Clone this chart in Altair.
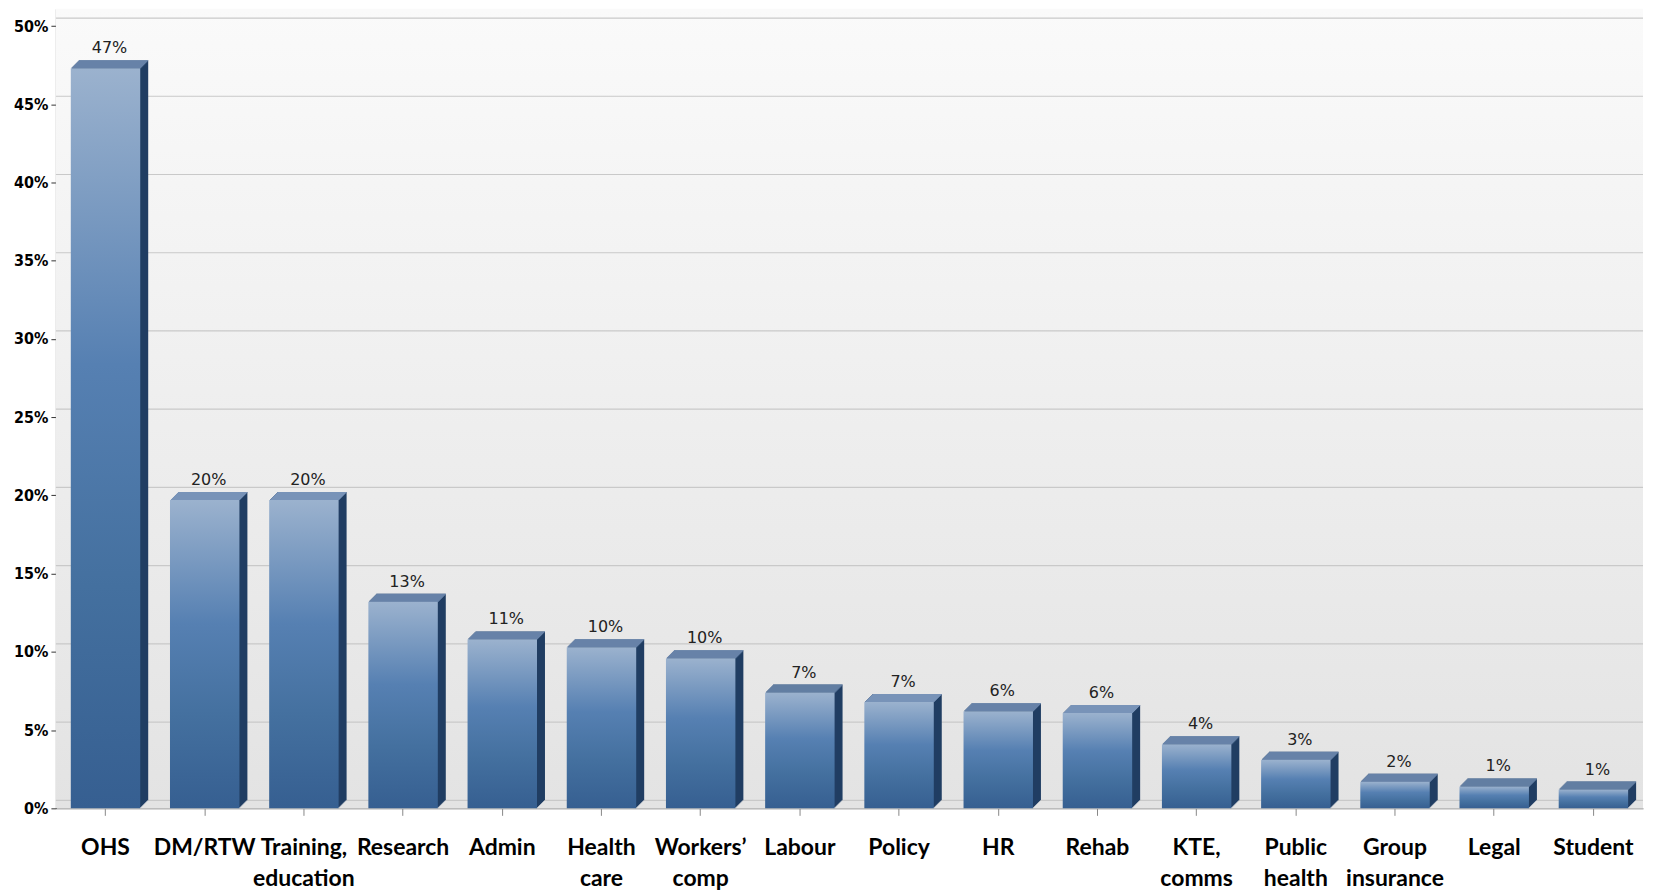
import altair as alt
import pandas as pd

categories = ["OHS", "DM/RTW", "Training,|education", "Research", "Admin", "Health|care",
              "Workers’|comp", "Labour", "Policy", "HR", "Rehab", "KTE,|comms",
              "Public|health", "Group|insurance", "Legal", "Student"]
values = [47.3, 19.7, 19.7, 13.2, 10.8, 10.3, 9.6, 7.4, 6.8, 6.2, 6.1, 4.1, 3.1, 1.7, 1.4, 1.2]
labels = ["47%", "20%", "20%", "13%", "11%", "10%", "10%", "7%", "7%", "6%", "6%", "4%",
          "3%", "2%", "1%", "1%"]
grid_values = [0, 5, 10, 15, 20, 25, 30, 35, 40, 45, 50]

df = pd.DataFrame({"cat": categories, "value": values, "label": labels})
gdf = pd.DataFrame({"g": grid_values})

W, H = 1590, 801
DEPTH = 8

xscale = alt.Scale(domain=categories, paddingInner=0.3, paddingOuter=0.15)
yscale = alt.Scale(domain=[0, 51.1], nice=False, zero=True)
x_axis = alt.Axis(title=None, labelAngle=0, labelExpr="split(datum.label, '|')")
y_axis = alt.Axis(title=None, values=grid_values, labelExpr="datum.value + '%'")

X = alt.X("cat:N", scale=xscale, axis=x_axis, sort=categories)
Y = alt.Y("value:Q", scale=yscale, axis=y_axis)

bg = alt.Chart(pd.DataFrame({"a": [0]})).mark_rect(
    color=alt.LinearGradient(gradient="linear", x1=0, x2=0, y1=0, y2=1,
                             stops=[alt.GradientStop(offset=0, color="#fafafa"),
                                    alt.GradientStop(offset=1, color="#e3e3e3")])
).encode(x=alt.value(0), x2=alt.value(W), y=alt.value(0), y2=alt.value(H))

grid = alt.Chart(gdf).mark_rule(color="#c9c9c9", strokeWidth=1.2, yOffset=-DEPTH).encode(
    y=alt.Y("g:Q", scale=yscale, axis=y_axis)
)

top_color = "#7893b8"
front_color = alt.LinearGradient(gradient="linear", x1=0, x2=0, y1=0, y2=1,
                                 stops=[alt.GradientStop(offset=0, color="#9bb2ce"),
                                        alt.GradientStop(offset=0.4, color="#5680b2"),
                                        alt.GradientStop(offset=0.7, color="#44709f"),
                                        alt.GradientStop(offset=1, color="#365f91")])

base = alt.Chart(df)
layers = [bg, grid]
for k in range(DEPTH, 0, -1):
    layers.append(base.mark_bar(color="#213e63", xOffset=k, x2Offset=k,
                                yOffset=-k, y2Offset=-k).encode(x=X, y=Y))
for k in range(DEPTH):
    layers.append(base.mark_bar(color=top_color, xOffset=k + 1, x2Offset=k + 1,
                                yOffset=-(k + 1), y2Offset=-k).encode(
        x=X, y=Y, y2=alt.Y2("value:Q")))
layers.append(base.mark_bar(color=front_color).encode(x=X, y=Y))
layers.append(base.mark_text(dx=4, dy=-12, baseline="bottom", font="DejaVu Sans",
                             fontSize=16, color="#222222").encode(
    x=X, y=Y, text=alt.Text("label:N")))

chart = alt.layer(*layers).properties(
    width=W, height=H, padding={"left": 5, "top": 0, "right": 5, "bottom": 0}
).configure_view(stroke=None).configure_axisY(
    domainColor="#333333", tickColor="#333333", tickSize=5, grid=False,
    labelFont="Liberation Sans Narrow, DejaVu Sans Condensed, sans-serif",
    labelFontSize=16, labelFontWeight="bold", labelColor="#000000", labelPadding=3
).configure_axisX(
    domainColor="#888888", tickColor="#888888", tickSize=7, grid=False,
    labelFont="Lato", labelFontSize=23, labelFontWeight="bold", labelColor="#000000",
    labelLineHeight=31, labelPadding=21
)

chart.save("out.html", embed_options={"renderer": "svg", "actions": False})
